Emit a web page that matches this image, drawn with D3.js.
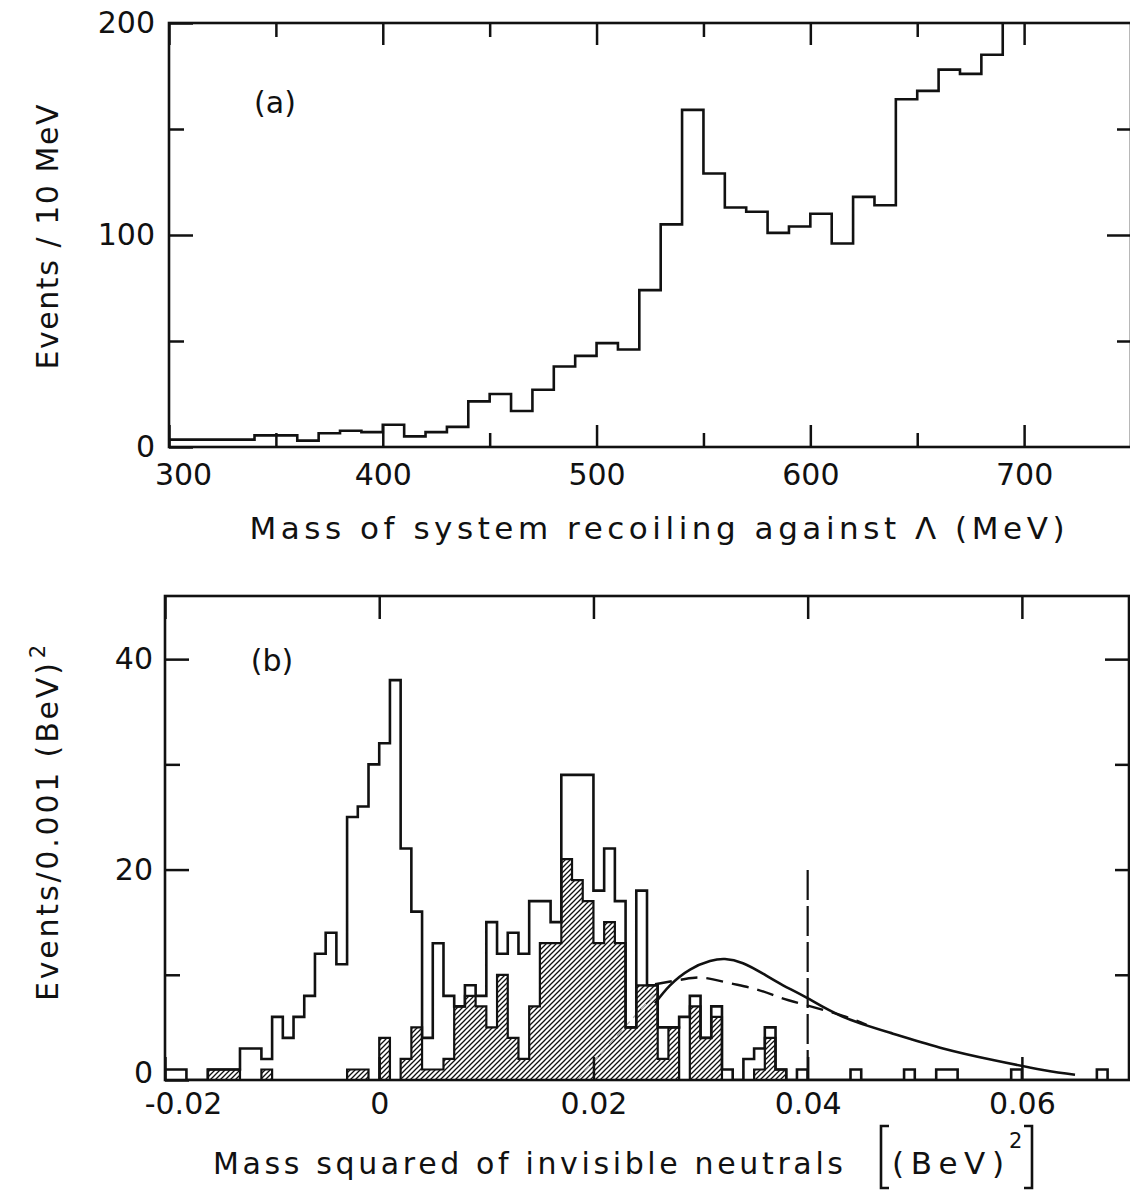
<!DOCTYPE html>
<html>
<head>
<meta charset="utf-8">
<script src="https://cdn.jsdelivr.net/npm/d3@7"></script>
<style>
  body { margin: 0; background: #fff; }
  svg { display: block; }
  text { font-family: "DejaVu Sans", sans-serif; fill: #111; }
</style>
</head>
<body>
<svg id="chart" width="1130" height="1191"></svg>
<script>
// (a) events per 10 MeV bin, bins start at 300 MeV
const massBinStart = 300;
const massBinWidth = 10;
const massCounts = [3.5, 3.5, 3.5, 3.5, 5.5, 5.5, 3, 6.5, 7.7, 7,
    10.5, 5, 7, 9.5, 21.5, 25, 17, 27, 38, 43,
    49, 46, 74, 105, 159, 129, 113, 111, 101, 104,
    110, 96, 118, 114, 164, 168, 178, 176, 185, 215];

// (b) events per 0.001 (BeV)^2, bins start at -0.020
const m2BinStart = -0.02;
const m2BinWidth = 0.001;
const m2Total = [1, 1, 0, 0, 1, 1, 1, 3, 3, 2, 6, 4, 6, 8, 12, 14, 11, 25, 26, 30,
    32, 38, 22, 16, 4, 13, 8, 7, 9, 8, 15, 12, 14, 12, 17, 17, 15, 29, 29, 29,
    18, 22, 17, 5, 18, 9, 5, 5, 6, 8, 4, 7, 1, 0, 2, 3, 5, 1, 0, 1,
    0, 0, 0, 0, 1, 0, 0, 0, 0, 1, 0, 0, 1, 1, 0, 0, 0, 0, 0, 1, 0, 0, 0, 0, 0, 0, 0, 1];
const m2Hatched = [0, 0, 0, 0, 1, 1, 1, 0, 0, 1, 0, 0, 0, 0, 0, 0, 0, 1, 1, 0,
    4, 0, 2, 5, 1, 1, 2, 7, 8, 7, 5, 10, 4, 2, 7, 13, 13, 21, 19, 17,
    13, 15, 13, 5, 9, 9, 2, 5, 0, 7, 4, 6, 0, 0, 0, 1, 4, 1, 0, 0];

// curves in (b): [m2, events]
const solidCurve = [[0.02575, 7.3], [0.02715, 9.0], [0.02902, 10.5], [0.03088, 11.3],
    [0.03228, 11.5], [0.03396, 11.1], [0.03583, 10.1], [0.0377, 9.0], [0.03994, 7.8],
    [0.0433, 6.0], [0.04797, 4.4], [0.05264, 3.0], [0.0573, 1.9], [0.06197, 0.95], [0.06496, 0.5]];
const dashedCurve = [[0.02575, 9.1], [0.02855, 9.6], [0.03042, 9.7], [0.03276, 9.2],
    [0.03527, 8.6], [0.03752, 7.8], [0.03994, 7.1], [0.0433, 6.1], [0.0455, 5.25]];
const faintCurve = [[0.01844, 0], [0.02575, 8.2]];
const cutValue = 0.04;
const cutTop = 20;

// ticks
const massMajor = [300, 400, 500, 600, 700];
const massMinor = [350, 450, 550, 650];
const countMajorA = [0, 100, 200];
const countMinorA = [50, 150];
const m2Major = [-0.02, 0, 0.02, 0.04, 0.06];
const countMajorB = [0, 20, 40];
const countMinorB = [10, 30];

const svg = d3.select('#chart');
const fontSize = 30;

const xA = d3.scaleLinear().domain([300, 750]).range([169, 1131]);
const yA = d3.scaleLinear().domain([0, 200]).range([447, 23]);
const xB = d3.scaleLinear().domain([-0.02, 0.07]).range([165, 1129]);
const yB = d3.scaleLinear().domain([0, 46]).range([1080, 596]);

const defs = svg.append('defs');
const hatch = defs.append('pattern')
    .attr('id', 'hatch')
    .attr('patternUnits', 'userSpaceOnUse')
    .attr('width', 5)
    .attr('height', 5);
hatch.append('path')
    .attr('d', 'M0,5 L5,0 M-1,1 L1,-1 M4,6 L6,4')
    .attr('stroke', '#111')
    .attr('stroke-width', 1.3);

function addClip(id, x, y) {
    defs.append('clipPath').attr('id', id)
        .append('rect')
        .attr('x', x.range()[0]).attr('y', y.range()[1])
        .attr('width', x.range()[1] - x.range()[0])
        .attr('height', y.range()[0] - y.range()[1]);
}
addClip('clipA', xA, yA);
addClip('clipB', xB, yB);

// step outline of a histogram
function stepPoints(values, start, width, close = true) {
    const pts = [[start, 0]];
    values.forEach((v, i) => {
        pts.push([start + i * width, v], [start + (i + 1) * width, v]);
    });
    if (close) pts.push([start + values.length * width, 0]);
    return pts;
}

function drawAxes(g, x, y, opt) {
    const styleAxis = (sel) => {
        sel.select('.domain').remove();
        sel.selectAll('line').attr('stroke', '#111').attr('stroke-width', 2.5);
        sel.selectAll('text').style('font-size', fontSize + 'px').attr('fill', '#111');
    };
    const h = y.range()[0], top = y.range()[1];
    const l = x.range()[0], r = x.range()[1];

    g.append('g').attr('transform', `translate(0,${h})`)
        .call(d3.axisBottom(x).tickValues(opt.xMajor).tickSize(-opt.xMajorLen)
            .tickPadding(opt.xPad).tickFormat(opt.xFormat))
        .call(styleAxis)
        .call((s) => s.selectAll('.tick text').filter((d, i) => i === 0).attr('dx', opt.firstShift));
    g.append('g').attr('transform', `translate(0,${top})`)
        .call(d3.axisTop(x).tickValues(opt.xMajor).tickSize(-opt.xMajorLen).tickFormat(''))
        .call(styleAxis);
    if (opt.xMinor.length) {
        g.append('g').attr('transform', `translate(0,${h})`)
            .call(d3.axisBottom(x).tickValues(opt.xMinor).tickSize(-14).tickFormat(''))
            .call(styleAxis);
        g.append('g').attr('transform', `translate(0,${top})`)
            .call(d3.axisTop(x).tickValues(opt.xMinor).tickSize(-14).tickFormat(''))
            .call(styleAxis);
    }
    g.append('g').attr('transform', `translate(${l},0)`)
        .call(d3.axisLeft(y).tickValues(opt.yMajor).tickSize(-24).tickPadding(opt.yPad))
        .call(styleAxis)
        .call((s) => s.selectAll('.tick text').filter((d) => d === 0).attr('dy', opt.zeroDy));
    g.append('g').attr('transform', `translate(${l},0)`)
        .call(d3.axisLeft(y).tickValues(opt.yMinor).tickSize(-15).tickFormat(''))
        .call(styleAxis);
    g.append('g').attr('transform', `translate(${r},0)`)
        .call(d3.axisRight(y).tickValues(opt.yRightMajor).tickSize(-24).tickFormat(''))
        .call(styleAxis);
    g.append('g').attr('transform', `translate(${r},0)`)
        .call(d3.axisRight(y).tickValues(opt.yRightMinor).tickSize(-14).tickFormat(''))
        .call(styleAxis);

    g.append('rect')
        .attr('x', l).attr('y', top)
        .attr('width', r - l).attr('height', h - top)
        .attr('fill', 'none')
        .attr('stroke', '#111')
        .attr('stroke-width', 2.6);
}

// ---- panel (a)
const gA = svg.append('g');
drawAxes(gA, xA, yA, {
    xMajor: massMajor, xMinor: massMinor, xMajorLen: 22, xPad: 17, xFormat: d3.format('d'),
    firstShift: 14, yMajor: countMajorA, yMinor: countMinorA, yPad: 14, zeroDy: '0.32em',
    yRightMajor: [100], yRightMinor: [50, 150]
});

const lineA = d3.line().x((d) => xA(d[0])).y((d) => yA(d[1]));
gA.append('path')
    .attr('clip-path', 'url(#clipA)')
    .attr('d', lineA(stepPoints(massCounts, massBinStart, massBinWidth, false)))
    .attr('fill', 'none')
    .attr('stroke', '#111')
    .attr('stroke-width', 2.6)
    .attr('stroke-linejoin', 'miter');

gA.append('text').attr('x', 275).attr('y', 113)
    .attr('text-anchor', 'middle').style('font-size', fontSize + 'px').text('(a)');

gA.append('text')
    .attr('transform', 'translate(58,237) rotate(-90)')
    .attr('text-anchor', 'middle')
    .attr('textLength', 265).attr('lengthAdjust', 'spacing')
    .style('font-size', fontSize + 'px')
    .text('Events / 10 MeV');

gA.append('text').attr('x', 657).attr('y', 539)
    .attr('text-anchor', 'middle')
    .attr('textLength', 815).attr('lengthAdjust', 'spacing')
    .style('font-size', '31px')
    .text('Mass of system recoiling against Λ (MeV)');

// ---- panel (b)
const gB = svg.append('g');
const plotB = gB.append('g').attr('clip-path', 'url(#clipB)');

const hatchedPts = stepPoints(m2Hatched, m2BinStart, m2BinWidth);
plotB.append('path')
    .attr('d', d3.area().x((d) => xB(d[0])).y0(yB(0)).y1((d) => yB(d[1]))(hatchedPts))
    .attr('fill', 'url(#hatch)');

const lineB = d3.line().x((d) => xB(d[0])).y((d) => yB(d[1]));
plotB.append('path')
    .attr('d', lineB(hatchedPts))
    .attr('fill', 'none')
    .attr('stroke', '#111')
    .attr('stroke-width', 2.2);

plotB.append('path')
    .attr('d', lineB(faintCurve))
    .attr('fill', 'none')
    .attr('stroke', '#aaa')
    .attr('stroke-width', 1.3)
    .attr('stroke-dasharray', '7,5');

plotB.append('path')
    .attr('d', lineB(stepPoints(m2Total, m2BinStart, m2BinWidth)))
    .attr('fill', 'none')
    .attr('stroke', '#111')
    .attr('stroke-width', 2.6);

const curveB = d3.line().curve(d3.curveNatural).x((d) => xB(d[0])).y((d) => yB(d[1]));
plotB.append('path')
    .attr('d', curveB(solidCurve))
    .attr('fill', 'none')
    .attr('stroke', '#111')
    .attr('stroke-width', 2.6);
plotB.append('path')
    .attr('d', curveB(dashedCurve))
    .attr('fill', 'none')
    .attr('stroke', '#111')
    .attr('stroke-width', 2.4)
    .attr('stroke-dasharray', '17,9');

plotB.append('line')
    .attr('x1', xB(cutValue)).attr('x2', xB(cutValue))
    .attr('y1', yB(0)).attr('y2', yB(cutTop))
    .attr('stroke', '#111')
    .attr('stroke-width', 2.2)
    .attr('stroke-dasharray', '30,6');

drawAxes(gB, xB, yB, {
    xMajor: m2Major, xMinor: [], xMajorLen: 23, xPad: 13, xFormat: (d) => String(d),
    firstShift: 18, yMajor: countMajorB, yMinor: countMinorB, yPad: 12, zeroDy: '0.08em',
    yRightMajor: [40], yRightMinor: [10, 20, 30]
});

gB.append('text').attr('x', 272).attr('y', 671)
    .attr('text-anchor', 'middle').style('font-size', fontSize + 'px').text('(b)');

const yTitleB = gB.append('text')
    .attr('transform', 'translate(58,823) rotate(-90)')
    .attr('text-anchor', 'middle')
    .style('font-size', fontSize + 'px');
yTitleB.append('tspan')
    .attr('textLength', 338).attr('lengthAdjust', 'spacing')
    .text('Events/0.001 (BeV)');
yTitleB.append('tspan').attr('dy', -13).attr('dx', 2).style('font-size', '21px').text('2');

gB.append('text').attr('x', 528).attr('y', 1174)
    .attr('text-anchor', 'middle')
    .attr('textLength', 630).attr('lengthAdjust', 'spacing')
    .style('font-size', fontSize + 'px')
    .text('Mass squared of invisible neutrals');

gB.append('text').attr('x', 892).attr('y', 1174)
    .attr('textLength', 112).attr('lengthAdjust', 'spacing')
    .style('font-size', '31px')
    .text('(BeV)');
gB.append('text').attr('x', 1009).attr('y', 1148)
    .style('font-size', '21px')
    .text('2');
// square brackets around the unit
gB.append('path')
    .attr('d', 'M889,1126 L881,1126 L881,1188 L889,1188 M1024,1126 L1032,1126 L1032,1188 L1024,1188')
    .attr('fill', 'none')
    .attr('stroke', '#111')
    .attr('stroke-width', 2.6);
</script>
</body>
</html>
